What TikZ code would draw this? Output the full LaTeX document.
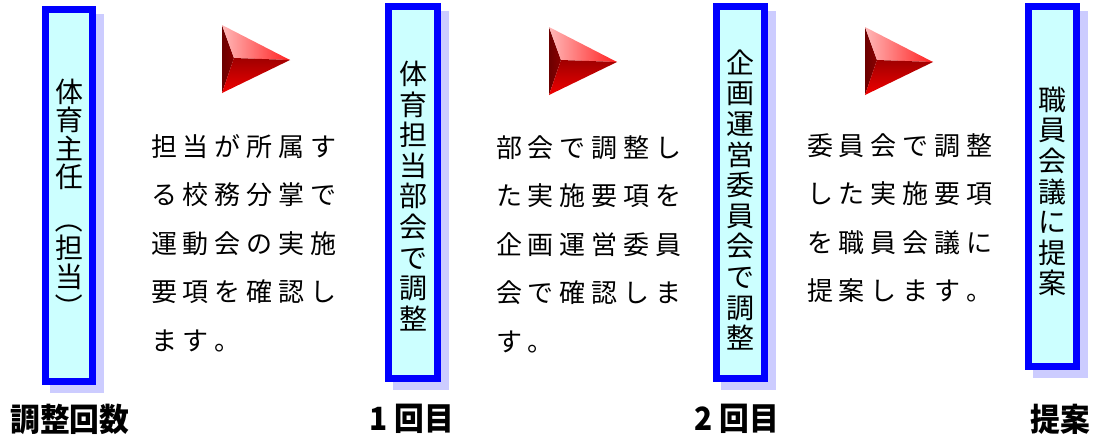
\documentclass[tikz,border=0pt]{standalone}
\usepackage{fontspec}
\usepackage{graphicx}
\newfontfamily\jp{Noto Sans CJK JP}
\usetikzlibrary{backgrounds}
\definecolor{boxblue}{HTML}{0000FF}
\definecolor{boxfill}{HTML}{CCFFFF}
\definecolor{shadowc}{HTML}{CCCCFF}
\definecolor{gemlight}{HTML}{FFB8B8}
\definecolor{gemred}{HTML}{FF2020}
\definecolor{gemdark}{HTML}{A00000}
\definecolor{gembright}{HTML}{F00000}
\definecolor{gemleft}{HTML}{6B0000}
\definecolor{gemleftb}{HTML}{8A0000}
\newlength\cw
\setlength\cw{31.8pt}
\def\spc#1{\ifx\relax#1\else\makebox[\cw][c]{#1}\expandafter\spc\fi}
\newcommand\vop{\rotatebox[origin=c]{-90}{（}}
\newcommand\vcl{\rotatebox[origin=c]{-90}{）}}
\begin{document}
\begin{tikzpicture}[x=1pt,y=-1pt,
  vbox/.style={draw=boxblue, line width=7pt, fill=boxfill, inner sep=0pt},
  vtext/.style={font=\jp\fontsize{28}{30.6}\selectfont, align=center, inner sep=0pt},
  para/.style={font=\jp\fontsize{26}{48.5}\selectfont, align=left, inner sep=0pt, anchor=north west},
  lbl/.style={font=\jp\bfseries\fontsize{32}{34}\selectfont, inner sep=0pt, xscale=0.93},
  gem/.pic={
    \shade[left color=gemleft, right color=gemleftb] (0,0) -- (12,33) -- (0,68) -- cycle;
    \shade[shading angle=120, left color=gemlight, right color=gemred] (0,0) -- (68,35) -- (12,33) -- cycle;
    \shade[top color=gemdark, bottom color=gembright] (12,33) -- (68,35) -- (0,68) -- cycle;
  }]
\useasboundingbox (0,0) rectangle (1096,439);

% boxes
\node[vbox, minimum width=47pt, minimum height=372pt] (b1) at (69,195.5) {};
\node[vbox, minimum width=49pt, minimum height=372pt] (b2) at (413,192.5) {};
\node[vbox, minimum width=48pt, minimum height=372pt] (b3) at (740.5,192.5) {};
\node[vbox, minimum width=48pt, minimum height=360pt] (b4) at (1052.5,186.5) {};

\begin{scope}[on background layer]
  \foreach \b in {b1,b2,b3,b4}
    \fill[shadowc] ([shift={(8,8)}]\b.north west) rectangle ([shift={(8,8)}]\b.south east);
\end{scope}

% box texts
\node[vtext, font=\jp\fontsize{28}{28.5}\selectfont] (t1) at (69,200)
  {体\\育\\主\\任\\[14pt]\vop\\担\\当\\[2pt]\vcl};
\node[vtext] (t2) at (413,196) {体\\育\\担\\当\\部\\会\\で\\調\\整};
\node[vtext] (t3) at (740.5,200) {企\\画\\運\\営\\委\\員\\会\\で\\調\\整};
\node[vtext] (t4) at (1052.5,191.5) {職\\員\\会\\議\\に\\提\\案};

% arrows
\pic at (222,25) {gem};
\pic at (549,27) {gem};
\pic at (865,27) {gem};

% paragraphs
\node[para] (p1) at (148,134) {\spc 担当が所属す\relax\\\spc る校務分掌で\relax\\\spc 運動会の実施\relax\\\spc 要項を確認し\relax\\\spc ます。\relax};
\node[para] (p2) at (493,135) {\spc 部会で調整し\relax\\\spc た実施要項を\relax\\\spc 企画運営委員\relax\\\spc 会で確認しま\relax\\\spc す。\relax};
\node[para] (p3) at (804,133) {\spc 委員会で調整\relax\\\spc した実施要項\relax\\\spc を職員会議に\relax\\\spc 提案します。\relax};

% bottom labels
\node[lbl] (l1) at (70,419) {調整回数};
\node[lbl] (l2) at (412,419) {1 回目};
\node[lbl] (l3) at (737,419) {2 回目};
\node[lbl] (l4) at (1060,419) {提案};
\end{tikzpicture}
\end{document}
